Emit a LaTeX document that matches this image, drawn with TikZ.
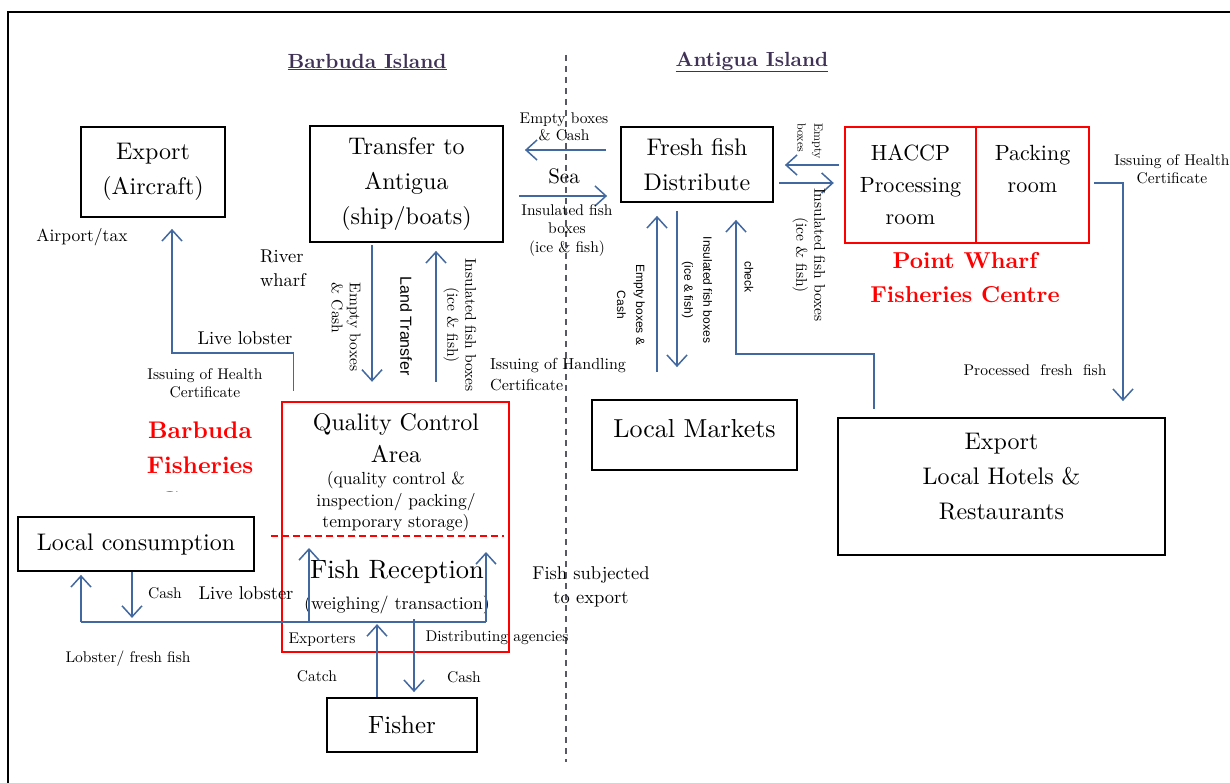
\documentclass[tikz,border=0pt]{standalone}
\usepackage{fontspec}
\setmainfont{lmroman10}[Extension=.otf,UprightFont=*-regular,BoldFont=*-bold,ItalicFont=*-italic,BoldItalicFont=*-bolditalic]
\newfontfamily\arialfont{Liberation Sans}
\usetikzlibrary{positioning,calc,arrows.meta}
\definecolor{flowblue}{RGB}{66,104,160}
\definecolor{headpurple}{RGB}{64,50,86}
\definecolor{divgray}{RGB}{88,88,100}
\tikzset{
  box/.style={draw,line width=1.8pt,inner sep=0pt,align=center,font=\fontsize{24}{35}\selectfont},
  redbox/.style={draw=red,line width=2.4pt,inner sep=0pt,align=center,font=\fontsize{22}{32}\selectfont},
  flow/.style={draw=flowblue,line width=1.5pt,-{Straight Barb[length=11pt,width=20pt]}},
  plainflow/.style={draw=flowblue,line width=1.5pt},
  note/.style={inner sep=0pt,align=center,font=\fontsize{15.5}{18}\selectfont},
  bignote/.style={inner sep=0pt,align=center,font=\fontsize{18.5}{24}\selectfont},
  sidenote/.style={note,rotate=-90},
  sansnote/.style={inner sep=0pt,align=center,rotate=-90,font=\arialfont\fontsize{12}{19}\selectfont},
  island/.style={inner sep=0pt,text=headpurple,font=\bfseries\fontsize{20.5}{24}\selectfont},
  centrename/.style={inner sep=0pt,align=center,text=red,font=\bfseries\fontsize{23}{34}\selectfont}
}

\begin{document}
\begin{tikzpicture}[x=1pt,y=-1pt]
\useasboundingbox (0,0) rectangle (1230,783);
\draw[line width=1.8pt] (8,783) -- (8,12) -- (1230,12);
\draw[divgray,line width=1.5pt,dash pattern=on 6pt off 5pt] (566,55) -- (566,762);

\node[island] (barbuda) at (367,62) {\underline{Barbuda Island}};
\node[island] (antigua) at (752,62) {\underline{Antigua Island}};

% boxes
\node[box,minimum width=144pt,minimum height=90pt] (air) at (153,172) {Export\\(Aircraft)};
\node[box,minimum width=193pt,minimum height=116pt] (trans) at (406.5,184) {Transfer to\\Antigua\\(ship/boats)};
\node[box,minimum width=152pt,minimum height=75pt] (fresh) at (697,164.5) {Fresh fish\\Distribute};
\node[redbox,minimum width=131pt,minimum height=116pt] (haccp) at (910.5,185) {HACCP\\Processing\\room};
\node[redbox,minimum width=113pt,minimum height=116pt] (packing) at (1032.5,185) {Packing\\room\\~};
\node[box,minimum width=205pt,minimum height=70pt,text depth=14pt,font=\fontsize{26}{35}\selectfont] (markets) at (694.5,435) {Local Markets};
\node[box,minimum width=327pt,minimum height=137pt,text depth=20pt] (hotels) at (1001.5,486.5) {Export\\Local Hotels \&\\Restaurants};
\node[redbox,minimum width=227pt,minimum height=250pt] (qc) at (395.5,527) {};
\node[box,minimum width=236pt,minimum height=54pt] (localc) at (136,544) {Local consumption};
\node[box,minimum width=150pt,minimum height=54pt,font=\fontsize{25}{35}\selectfont] (fisher) at (402,725) {Fisher};

\node[centrename] (pwfc) at (965,278) {Point Wharf\\Fisheries Centre};
\begin{scope}
  \clip (100,400) rectangle (275,491);
  \node[centrename,font=\bfseries\fontsize{24}{35}\selectfont] (bfc) at (200,465) {Barbuda\\Fisheries\\Centre};
\end{scope}

% inside the quality control area
\node[inner sep=0pt,align=center,font=\fontsize{24}{32}\selectfont] (qcname) at (396,438) {Quality Control\\Area};
\node[inner sep=0pt,align=center,font=\fontsize{17.5}{21.5}\selectfont] (qcsub) at (396,502) {(quality control \&\\inspection/ packing/\\temporary storage)};
\coordinate (splitl) at (271,536);
\coordinate (splitr) at (504,536);
\draw[red,line width=1.5pt,dash pattern=on 7pt off 4pt] (splitl) -- (splitr);
\node[inner sep=0pt,font=\fontsize{26.5}{30}\selectfont] (fishrec) at (397,572) {Fish Reception};
\node[inner sep=0pt,font=\fontsize{18}{22}\selectfont] (weigh) at (397,605) {(weighing/ transaction)};

% export by air
\draw[flow] ([xshift=-102pt,yshift=10pt]qc.north) -- ++(0,-38) -| ([xshift=19pt,yshift=-11pt]air.south);
\node[bignote,font=\fontsize{17.5}{22}\selectfont] (airtax) at (82,237) {Airport/tax};
\node[bignote] (livelob1) at (245,338) {Live lobster};
\node[note] (health1) at (205,383) {Issuing of Health\\Certificate};
\node[bignote,align=left] (river) at (283,268) {River\\wharf};

% land transfer
\draw[flow] ([xshift=-34.5pt,yshift=-2pt]trans.south) -- ([xshift=-23.5pt,yshift=19pt]qc.north);
\draw[flow] ([xshift=40.5pt,yshift=19pt]qc.north) -- ([xshift=29.5pt,yshift=-8pt]trans.south);
\node[sidenote,align=left] (emptyland) at (346,327) {Empty boxes\\\& Cash};
\node[sansnote,font=\arialfont\fontsize{16}{19}\selectfont] (landtr) at (406,326) {Land Transfer};
\node[sidenote] (insland) at (460,325) {Insulated fish boxes\\(ice \& fish)};
\node[note,font=\fontsize{16}{21}\selectfont,align=left,anchor=west] (handling) at (490,375) {Issuing of Handling\\Certificate};

% sea
\draw[flow] ([xshift=-14pt,yshift=14.5pt]fresh.west) -- ([xshift=21pt,yshift=34pt]trans.east);
\draw[flow] ([xshift=15pt,yshift=-12pt]trans.east) -- ([xshift=-13pt,yshift=-31.5pt]fresh.west);
\node[note,font=\fontsize{15.5}{17}\selectfont] (emptysea) at (564,127) {Empty boxes\\\& Cash};
\node[inner sep=0pt,font=\fontsize{21}{24}\selectfont] (sea) at (564,176) {Sea};
\node[note,font=\fontsize{15.5}{18.5}\selectfont] (inssea) at (567,230) {Insulated fish\\boxes\\(ice \& fish)};

% fresh fish and HACCP
\draw[flow] ([xshift=-5pt,yshift=20pt]haccp.west) -- ([xshift=11pt,yshift=-0.5pt]fresh.east);
\draw[flow] ([xshift=5pt,yshift=-18.5pt]fresh.east) -- ([xshift=-10pt,yshift=2pt]haccp.west);
\node[sidenote,align=left,font=\fontsize{12}{17}\selectfont] (emptyhac) at (810,141) {Empty\\boxes};
\node[sidenote] (inshac) at (809,255) {Insulated fish boxes\\(ice \& fish)};

% fresh fish and local markets
\draw[flow] ([xshift=-37.5pt,yshift=27pt]markets.north) -- ([xshift=-40pt,yshift=-13pt]fresh.south);
\draw[flow] ([xshift=-20pt,yshift=-8pt]fresh.south) -- ([xshift=-17.5pt,yshift=32pt]markets.north);
\draw[flow] ([xshift=-127.5pt,yshift=8pt]hotels.north) -- ++(0,-55) -| ([xshift=39pt,yshift=-17pt]fresh.south);
\node[sansnote] (emptymk) at (631,305) {Empty boxes \&\\Cash};
\node[sansnote] (insmk) at (697,290) {Insulated fish boxes\\(ice \& fish)};
\node[sansnote] (check) at (749,277) {check};

% processed fish
\draw[flow] ([xshift=4pt,yshift=2pt]packing.east) -| ([xshift=121.5pt,yshift=16pt]hotels.north);
\node[note] (health2) at (1172,169) {Issuing of Health\\Certificate};
\node[note] (processed) at (1035,370) {Processed~~fresh~~fish};

% fish reception outlets
\coordinate (busl) at (81,622);
\coordinate (busr) at (486,622);
\coordinate (tipa) at (309,548);
\coordinate (tipb) at (486,552);
\draw[plainflow] (busl) -- (busr);
\draw[flow] (busl) -- ([xshift=-55pt,yshift=-3pt]localc.south);
\draw[flow] ([xshift=-4pt]localc.south) -- ++(0,46);
\draw[flow] (busl -| tipa) -- (tipa);
\draw[flow] (busr) -- (tipb);
\node[note] (cash1) at (165,593) {Cash};
\node[bignote] (livelob2) at (246,593) {Live lobster};
\node[note] (lobfish) at (128,659) {Lobster/ fresh fish};
\node[bignote] (subj) at (591,587) {Fish subjected\\to export};

% fisher
\draw[flow] ([xshift=-25pt]fisher.north) -- ++(0,-73);
\draw[flow] ([xshift=12pt,yshift=78pt]fisher.north) -- ([xshift=12pt,yshift=5pt]fisher.north);
\node[note] (exporters) at (322,640) {Exporters};
\node[note] (agencies) at (497,638) {Distributing agencies};
\node[note] (catch) at (317,676) {Catch};
\node[note] (cash2) at (464,677) {Cash};
\end{tikzpicture}
\end{document}
